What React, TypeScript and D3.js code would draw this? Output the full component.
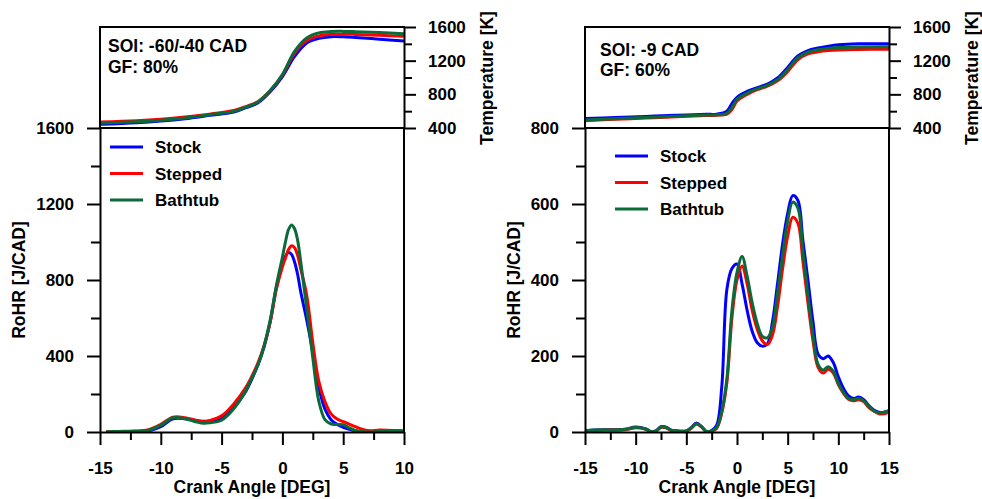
import React, { useEffect, useRef } from 'react';
import * as d3 from 'd3';

// ---- left chart (SOI -60/-40 CAD, GF 80%) ----
const rohrAngleA = [-14.5, -14, -13, -12, -11, -10, -9, -8, -7, -6.5, -6, -5, -4, -3, -2.5, -2, -1.5, -1, -0.5, 0, 0.25, 0.5, 0.75, 1, 1.25, 1.5, 2, 2.5, 3, 3.5, 4, 4.5, 5, 5.5, 6, 7, 8, 9, 10];
const rohrStockA = [0, 1, 2, 3, 6, 28, 70, 70, 60, 56, 58, 72, 128, 215, 280, 355, 450, 580, 760, 880, 925, 945, 935, 895, 830, 740, 590, 420, 235, 120, 65, 40, 25, 14, 6, 0, 2, 4, 4];
const rohrSteppedA = [0, 2, 4, 5, 12, 40, 78, 75, 60, 54, 60, 85, 148, 235, 295, 365, 455, 580, 750, 870, 915, 960, 980, 970, 930, 860, 720, 470, 265, 160, 95, 68, 55, 42, 28, 8, 10, 8, 7];
const rohrBathtubA = [0, 2, 3, 4, 10, 35, 75, 70, 52, 46, 48, 62, 122, 220, 285, 355, 455, 590, 770, 920, 1000, 1065, 1090, 1070, 1010, 900, 650, 390, 160, 65, 42, 40, 38, 22, 8, 0, 2, 4, 4];

const tempAngleA = [-15, -12, -10, -8, -6, -4, -3, -2, -1, 0, 1, 2, 3, 4, 5, 6, 8, 10];
const tempStockA = [444, 463, 483, 511, 550, 590, 641, 700, 830, 1010, 1250, 1410, 1465, 1485, 1483, 1475, 1455, 1433];
const tempSteppedA = [470, 485, 503, 530, 565, 607, 655, 715, 845, 1030, 1290, 1440, 1495, 1512, 1515, 1512, 1502, 1489];
const tempBathtubA = [458, 473, 492, 520, 557, 598, 648, 710, 845, 1035, 1310, 1470, 1530, 1546, 1548, 1545, 1535, 1520];

// ---- right chart (SOI -9 CAD, GF 60%) ----
const rohrAngleB = [-15, -14, -13, -12, -11, -10, -9, -8.5, -8, -7.5, -7, -6.5, -6, -5, -4.5, -4, -3.5, -3, -2.5, -2, -1.5, -1, -0.5, 0, 0.5, 1, 1.5, 2, 2.5, 3, 3.5, 4, 4.5, 5, 5.5, 6, 6.5, 7, 7.5, 8, 8.5, 9, 9.5, 10, 10.5, 11, 11.5, 12, 12.5, 13, 13.5, 14, 14.5, 15];
const rohrStockB = [3, 5, 6, 6, 7, 13, 8, 1, 3, 14, 13, 5, 3, 3, 12, 24, 14, 1, 4, 18, 120, 375, 430, 442, 390, 320, 265, 235, 226, 232, 290, 390, 495, 575, 622, 610, 505, 400, 290, 205, 193, 200, 183, 145, 115, 95, 88, 92, 85, 70, 58, 52, 52, 56];
const rohrSteppedB = [2, 4, 5, 5, 6, 11, 7, 0, 2, 12, 11, 4, 2, 2, 10, 21, 13, 1, 2, 10, 50, 130, 300, 400, 437, 390, 320, 270, 240, 230, 255, 330, 430, 515, 565, 550, 450, 340, 240, 170, 155, 165, 155, 125, 102, 86, 82, 85, 80, 65, 55, 48, 48, 52];
const rohrBathtubB = [3, 5, 6, 5, 7, 12, 8, 1, 3, 13, 12, 5, 3, 3, 11, 22, 14, 1, 3, 12, 55, 140, 320, 420, 462, 410, 340, 285, 252, 248, 275, 365, 465, 555, 605, 590, 475, 360, 255, 178, 163, 172, 160, 128, 104, 88, 85, 88, 82, 67, 56, 50, 52, 56];

const tempAngleB = [-15, -12, -9, -6, -3, -2, -1, -0.5, 0, 1, 2, 3, 4, 5, 6, 7, 8, 9, 10, 12, 15];
const tempStockB = [512, 525, 538, 552, 562, 565, 600, 690, 765, 835, 880, 922, 995, 1120, 1255, 1320, 1350, 1372, 1388, 1400, 1400];
const tempSteppedB = [487, 503, 518, 534, 548, 552, 565, 620, 720, 800, 855, 897, 960, 1070, 1210, 1280, 1305, 1320, 1328, 1333, 1335];
const tempBathtubB = [495, 510, 525, 540, 553, 556, 575, 645, 740, 815, 865, 907, 975, 1095, 1235, 1300, 1330, 1345, 1355, 1362, 1364];

const seriesNames = ['Stock', 'Stepped', 'Bathtub'];
const colors = ['#0000ff', '#ff0000', '#0b6b38'];

const FONT = "'Liberation Sans', Arial, Helvetica, sans-serif";
const TOP = 27;
const MID = 128;
const BOT = 432;

const charts = [
    {
        id: 'a',
        x0: 100,
        x1: 404,
        xDomain: [-15, 10],
        rohrMax: 1600,
        rohrMinor: 200,
        rohrMajor: 400,
        rohrAngle: rohrAngleA,
        rohr: [rohrStockA, rohrSteppedA, rohrBathtubA],
        tempAngle: tempAngleA,
        temp: [tempStockA, tempSteppedA, tempBathtubA],
        notes: ['SOI: -60/-40 CAD', 'GF: 80%'],
        noteX: 108,
        noteY: [52, 73],
        legendX: 110,
        legendY: 147,
        rohrLabelX: 25,
        tempLabelX: 493,
    },
    {
        id: 'b',
        x0: 585,
        x1: 889,
        xDomain: [-15, 15],
        rohrMax: 800,
        rohrMinor: 100,
        rohrMajor: 200,
        rohrAngle: rohrAngleB,
        rohr: [rohrStockB, rohrSteppedB, rohrBathtubB],
        tempAngle: tempAngleB,
        temp: [tempStockB, tempSteppedB, tempBathtubB],
        notes: ['SOI: -9 CAD', 'GF: 60%'],
        noteX: 600,
        noteY: [56, 76],
        legendX: 615,
        legendY: 156,
        rohrLabelX: 520,
        tempLabelX: 978,
    },
];

function styleAxis(ax) {
    ax.attr('font-size', null).attr('font-family', null);
    ax.select('.domain').attr('stroke', '#000').attr('stroke-width', 2);
    ax.selectAll('.tick line').attr('stroke', '#000').attr('stroke-width', 2);
    ax.selectAll('.tick text')
        .attr('fill', '#000')
        .attr('font-family', FONT)
        .attr('font-weight', 'bold')
        .attr('font-size', 17);
}

function drawChart(svg, cfg) {
    const x = d3.scaleLinear().domain(cfg.xDomain).range([cfg.x0, cfg.x1]);
    const yR = d3.scaleLinear().domain([0, cfg.rohrMax]).range([BOT, MID]);
    const yT = d3.scaleLinear().domain([400, 1600]).range([MID, TOP]);
    const w = cfg.x1 - cfg.x0;

    const defs = svg.append('defs');
    defs.append('clipPath').attr('id', `top-${cfg.id}`)
        .append('rect').attr('x', cfg.x0).attr('y', TOP).attr('width', w).attr('height', MID - TOP);
    defs.append('clipPath').attr('id', `bot-${cfg.id}`)
        .append('rect').attr('x', cfg.x0).attr('y', MID).attr('width', w).attr('height', BOT - MID);

    const g = svg.append('g');

    // temperature curves (top panel)
    const lineT = d3.line().x((d) => x(d[0])).y((d) => yT(d[1])).curve(d3.curveCatmullRom.alpha(0.5));
    cfg.temp.forEach((vals, i) => {
        g.append('path')
            .datum(cfg.tempAngle.map((a, j) => [a, vals[j]]))
            .attr('clip-path', `url(#top-${cfg.id})`)
            .attr('d', lineT)
            .attr('fill', 'none')
            .attr('stroke', colors[i])
            .attr('stroke-width', 3);
    });

    // RoHR curves (bottom panel)
    const lineR = d3.line().x((d) => x(d[0])).y((d) => yR(d[1])).curve(d3.curveCatmullRom.alpha(0.5));
    cfg.rohr.forEach((vals, i) => {
        g.append('path')
            .datum(cfg.rohrAngle.map((a, j) => [a, vals[j]]))
            .attr('clip-path', `url(#bot-${cfg.id})`)
            .attr('d', lineR)
            .attr('fill', 'none')
            .attr('stroke', colors[i])
            .attr('stroke-width', 3);
    });

    // frame
    g.append('path')
        .attr('d', `M${cfg.x0},${MID}V${TOP}H${cfg.x1}M${cfg.x0},${MID}H${cfg.x1}M${cfg.x1},${MID}V${BOT}`)
        .attr('fill', 'none')
        .attr('stroke', '#000')
        .attr('stroke-width', 2)
        .attr('stroke-linecap', 'square');

    // bottom axis
    const xTicks = d3.range(cfg.xDomain[0], cfg.xDomain[1] + 0.01, 2.5);
    const axB = g.append('g')
        .attr('transform', `translate(0,${BOT})`)
        .call(
            d3.axisBottom(x)
                .tickValues(xTicks)
                .tickSize(13)
                .tickSizeOuter(0)
                .tickPadding(17)
                .tickFormat((d) => (d % 5 === 0 ? String(d) : ''))
        );
    styleAxis(axB);
    axB.selectAll('.tick line').attr('y2', (d) => (d % 5 === 0 ? 13 : 8));

    // left RoHR axis
    const yTicks = d3.range(0, cfg.rohrMax + 1, cfg.rohrMinor);
    const axL = g.append('g')
        .attr('transform', `translate(${cfg.x0},0)`)
        .call(
            d3.axisLeft(yR)
                .tickValues(yTicks)
                .tickSize(13)
                .tickSizeOuter(0)
                .tickPadding(13)
                .tickFormat((d) => (d % cfg.rohrMajor === 0 ? String(d) : ''))
        );
    styleAxis(axL);
    axL.selectAll('.tick line').attr('x2', (d) => (d % cfg.rohrMajor === 0 ? -13 : -9));

    // right temperature axis
    const tTicks = d3.range(400, 1601, 200);
    const axR = g.append('g')
        .attr('transform', `translate(${cfg.x1},0)`)
        .call(
            d3.axisRight(yT)
                .tickValues(tTicks)
                .tickSize(12)
                .tickSizeOuter(0)
                .tickPadding(12)
                .tickFormat((d) => (d % 400 === 0 ? String(d) : ''))
        );
    styleAxis(axR);
    axR.selectAll('.tick line').attr('x2', (d) => (d % 400 === 0 ? 12 : 8));

    const text = (sel) =>
        sel.attr('font-family', FONT).attr('font-weight', 'bold').attr('fill', '#000');

    // axis titles
    g.append('text')
        .attr('x', (cfg.x0 + cfg.x1) / 2)
        .attr('y', 493)
        .attr('text-anchor', 'middle')
        .attr('font-size', 17.5)
        .text('Crank Angle [DEG]')
        .call(text);
    g.append('text')
        .attr('transform', `translate(${cfg.rohrLabelX},${(MID + BOT) / 2}) rotate(-90)`)
        .attr('text-anchor', 'middle')
        .attr('font-size', 17.5)
        .text('RoHR [J/CAD]')
        .call(text);
    g.append('text')
        .attr('transform', `translate(${cfg.tempLabelX},78) rotate(-90)`)
        .attr('text-anchor', 'middle')
        .attr('font-size', 17.5)
        .text('Temperature [K]')
        .call(text);

    // notes
    cfg.notes.forEach((n, i) => {
        g.append('text')
            .attr('x', cfg.noteX)
            .attr('y', cfg.noteY[i])
            .attr('font-size', 17.5)
            .text(n)
            .call(text);
    });

    // legend
    seriesNames.forEach((name, i) => {
        const ly = cfg.legendY + i * 26.5;
        g.append('line')
            .attr('x1', cfg.legendX)
            .attr('x2', cfg.legendX + 33)
            .attr('y1', ly)
            .attr('y2', ly)
            .attr('stroke', colors[i])
            .attr('stroke-width', 3);
        g.append('text')
            .attr('x', cfg.legendX + 45)
            .attr('y', ly + 6)
            .attr('font-size', 17)
            .text(name)
            .call(text);
    });
}

export default function App() {
    const ref = useRef(null);

    useEffect(() => {
        const svg = d3.select(ref.current);
        svg.selectAll('*').remove();
        charts.forEach((c) => drawChart(svg, c));
    }, []);

    return (
        <svg
            ref={ref}
            width={982}
            height={499}
            style={{ position: 'absolute', left: 0, top: 0, background: '#fff' }}
        />
    );
}
